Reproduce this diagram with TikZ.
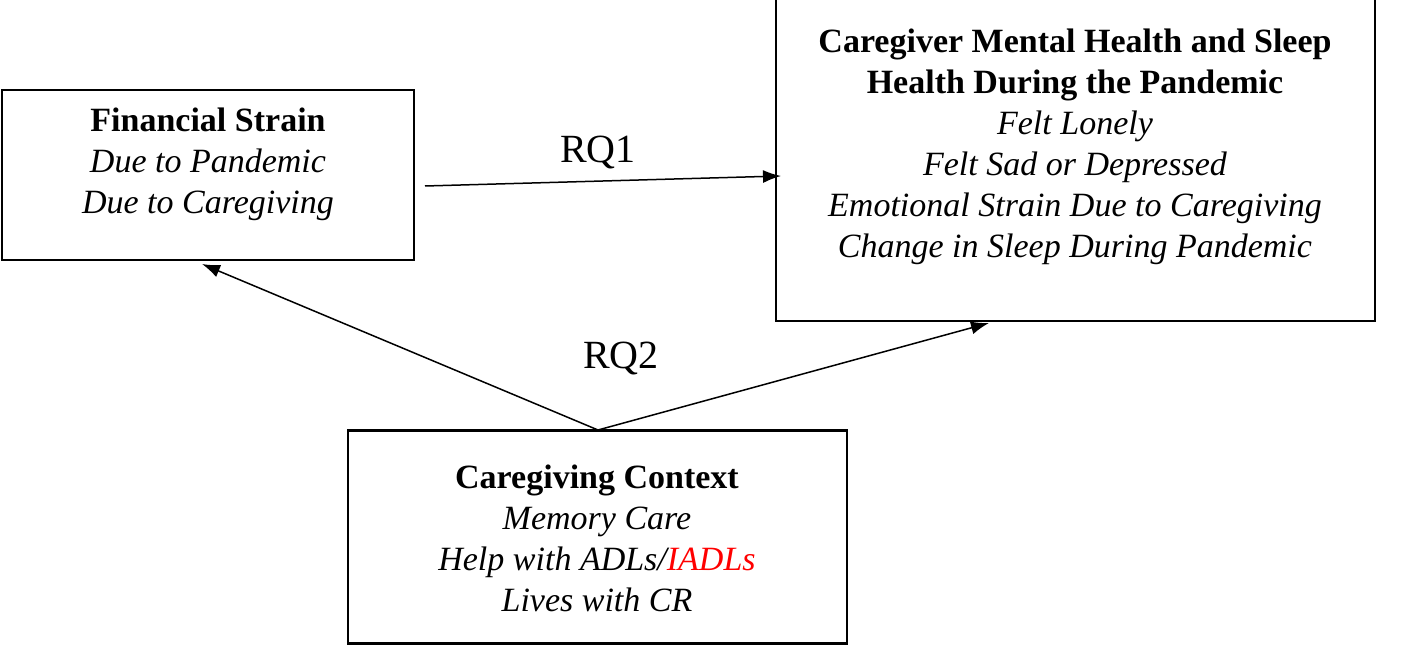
\documentclass[tikz,border=0pt]{standalone}
\usepackage{fontspec}
\setmainfont{Liberation Serif}
\usetikzlibrary{arrows.meta}
\begin{document}
\begin{tikzpicture}[x=1pt,y=-1pt,
  box/.style={draw,line width=2.5pt,inner sep=0pt},
  txt/.style={align=center,font=\fontsize{34}{41}\selectfont,inner sep=0pt},
  rq/.style={font=\fontsize{40}{44}\selectfont,inner sep=0pt},
  arr/.style={line width=1.5pt,-{Latex[length=18pt,width=13pt]}}]
\useasboundingbox (0,0) rectangle (1406,647);
\node[box,minimum width=412pt,minimum height=170pt] (fs) at (208,175) {};
\node[box,minimum width=599pt,minimum height=322pt] (mh) at (1075.5,160) {};
\node[box,minimum width=499pt,minimum height=213pt] (cc) at (597.5,537) {};
\node[txt] (fst) at (208,164) {\textbf{Financial Strain}\\\textit{Due to Pandemic}\\\textit{Due to Caregiving}};
\node[txt] (mht) at (1075,147) {\textbf{Caregiver Mental Health and Sleep}\\\textbf{Health During the Pandemic}\\\textit{Felt Lonely}\\\textit{Felt Sad or Depressed}\\\textit{Emotional Strain Due to Caregiving}\\\textit{Change in Sleep During Pandemic}};
\node[txt] (cct) at (597,538) {\textbf{Caregiving Context}\\\textit{Memory Care}\\\textit{Help with ADLs/\textcolor{red}{IADLs}}\\\textit{Lives with CR}};
\coordinate (a1) at (425,186);
\coordinate (a2) at (781,176);
\draw[arr] (a1) -- (a2);
\coordinate (b0) at (598,430);
\coordinate (b1) at (202,264);
\coordinate (b2) at (989,323);
\draw[arr] (b0) -- (b1);
\draw[arr] (b0) -- (b2);
\node[rq] (rq1) at (598,153) {RQ1};
\node[rq] (rq2) at (621,358) {RQ2};
\end{tikzpicture}
\end{document}
